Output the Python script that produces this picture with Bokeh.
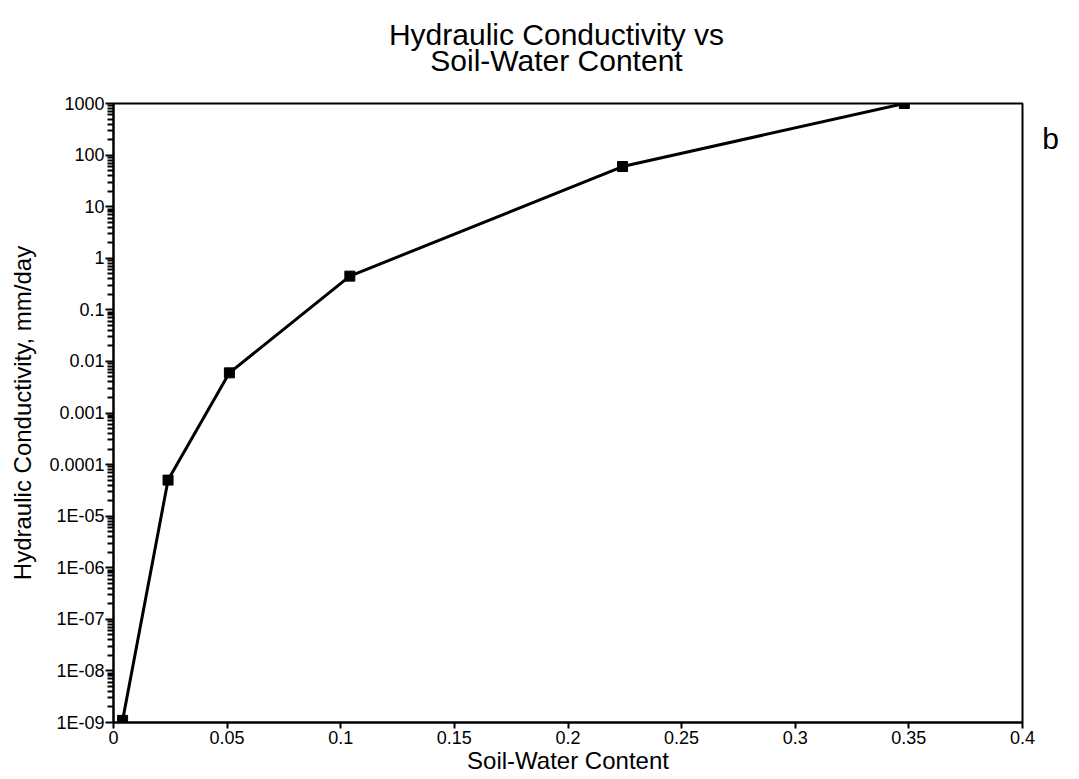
from bokeh.plotting import figure
from bokeh.models import FixedTicker
from bokeh.layouts import column, row
from bokeh.core.properties import value
from bokeh.embed import file_html
from bokeh.resources import INLINE

# Data
water_content = [0.004, 0.024, 0.051, 0.104, 0.224, 0.348]
conductivity = [1.1e-9, 5e-5, 0.006, 0.45, 60, 1000]

x_ticks = [0, 0.05, 0.1, 0.15, 0.2, 0.25, 0.3, 0.35, 0.4]
x_tick_labels = ["0", "0.05", "0.1", "0.15", "0.2", "0.25", "0.3", "0.35", "0.4"]
y_ticks = [1e-9, 1e-8, 1e-7, 1e-6, 1e-5, 1e-4, 1e-3, 1e-2, 1e-1, 1, 10, 100, 1000]
y_tick_labels = ["1E-09", "1E-08", "1E-07", "1E-06", "1E-05", "0.0001", "0.001",
                 "0.01", "0.1", "1", "10", "100", "1000"]
title_lines = ["Hydraulic Conductivity vs", "Soil-Water Content"]
panel_letter = "b"

FONT = "Liberation Sans"


def blank(width, height):
    f = figure(width=width, height=height, x_range=(0, width), y_range=(0, height),
               x_axis_type=None, y_axis_type=None, output_backend="svg",
               toolbar_location=None, min_border=0)
    f.grid.visible = False
    f.outline_line_color = None
    f.background_fill_color = "white"
    f.border_fill_color = "white"
    return f


# --- title strip ---
top = blank(1079, 91)
top.text(x=[556, 556], y=[57, 31], text=title_lines, text_font=value(FONT),
         text_font_size="30px", text_color="black", text_align="center",
         text_baseline="middle")

# --- main plot ---
p = figure(width=1040, height=688, y_axis_type="log",
           x_range=(0, 0.4), y_range=(1e-9, 1000),
           output_backend="svg", toolbar_location=None,
           min_border_left=113, min_border_right=18,
           min_border_top=12, min_border_bottom=57)

p.grid.visible = False
p.outline_line_color = "black"
p.outline_line_width = 2
p.background_fill_color = "white"
p.border_fill_color = "white"

p.xaxis.ticker = FixedTicker(ticks=x_ticks)
p.xaxis.major_label_overrides = {t: l for t, l in zip(x_ticks, x_tick_labels)}
p.xaxis.axis_label = "Soil-Water Content"

minor = []
for d in y_ticks[:-1]:
    for m in range(2, 10):
        minor.append(d * m)
p.yaxis.ticker = FixedTicker(ticks=y_ticks, minor_ticks=minor)
p.yaxis.major_label_overrides = {t: l for t, l in zip(y_ticks, y_tick_labels)}
p.yaxis.axis_label = "Hydraulic Conductivity, mm/day"

for ax in (p.xaxis, p.yaxis):
    ax.axis_line_width = 2
    ax.axis_line_color = "black"
    ax.major_tick_in = 0
    ax.minor_tick_in = 0
    ax.major_tick_line_width = 2
    ax.minor_tick_line_width = 2
    ax.major_label_text_font = FONT
    ax.major_label_text_font_size = "18px"
    ax.major_label_text_color = "black"
    ax.axis_label_text_font = FONT
    ax.axis_label_text_font_size = "24px"
    ax.axis_label_text_font_style = "normal"
    ax.axis_label_text_color = "black"

p.xaxis.major_tick_out = 6
p.xaxis.minor_tick_out = 0
p.xaxis.major_label_standoff = 2
p.xaxis.axis_label_standoff = 0
p.yaxis.major_tick_out = 8
p.yaxis.minor_tick_out = 6
p.yaxis.major_label_standoff = 1
p.yaxis.axis_label_standoff = 10

p.line(water_content, conductivity, line_color="black", line_width=3)
p.scatter(water_content, conductivity, marker="square", size=10,
          fill_color="black", line_color="black")

# --- right strip with panel letter ---
side = blank(39, 688)
side.text(x=[10], y=[649], text=[panel_letter], text_font=value(FONT),
          text_font_size="30px", text_color="black", text_align="center",
          text_baseline="middle")

layout = column(top, row(p, side, spacing=0), spacing=0)

open("out.html", "w").write(file_html(layout, INLINE))
